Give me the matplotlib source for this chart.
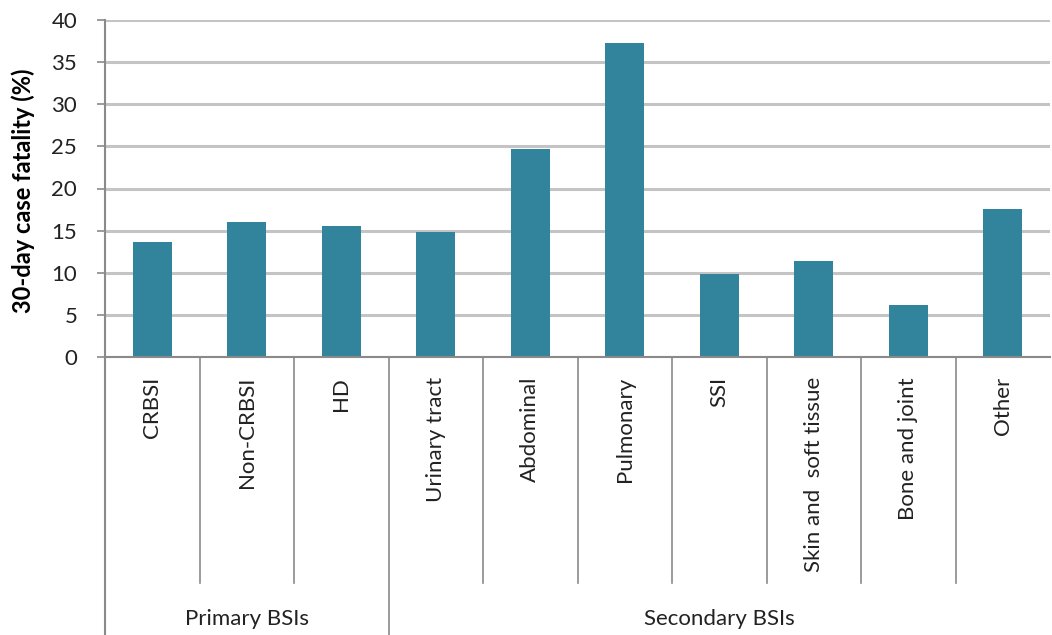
import matplotlib.pyplot as plt
from matplotlib.transforms import blended_transform_factory

# 30-day case fatality by source of bloodstream infection
categorias = ['CRBSI', 'Non-CRBSI', 'HD', 'Urinary tract', 'Abdominal',
              'Pulmonary', 'SSI', 'Skin and  soft tissue', 'Bone and joint', 'Other']
fatalidad = [13.6, 16.0, 15.5, 14.8, 24.7, 37.3, 9.8, 11.4, 6.2, 17.6]
grupos = ['Primary BSIs', 'Secondary BSIs']
grupo_tamanio = [3, 7]

plt.rcParams['font.family'] = ['Lato', 'DejaVu Sans']

color_barra = '#31849b'
gris_grid = '#c4c4c4'
gris_eje = '#8a8a8a'
color_texto = '#222222'

fig = plt.figure(figsize=(10.52, 6.35), dpi=100)
ax = fig.add_axes([105 / 1052, 278 / 635, 945 / 1052, 337 / 635])

x = list(range(len(categorias)))
ax.bar(x, fatalidad, width=0.41, color=color_barra, zorder=3)

ax.set_xlim(-0.5, len(categorias) - 0.5)
ax.set_ylim(0, 40)
ax.set_yticks(range(0, 41, 5))
ax.tick_params(axis='y', length=6, width=1.2, color=gris_eje, pad=14,
               labelsize=16, labelcolor=color_texto)
ax.set_xticks([])
ax.grid(axis='y', color=gris_grid, linewidth=2.2, zorder=0)

for lado in ['top', 'right', 'bottom']:
    ax.spines[lado].set_visible(False)
ax.spines['left'].set_color(gris_eje)
ax.spines['left'].set_linewidth(1.5)
ax.axhline(0, color=gris_eje, linewidth=1.5, zorder=4, clip_on=False)

# eje de categorias con dos niveles (estilo Excel)
trans = blended_transform_factory(ax.transData, ax.transAxes)
alto = 337.0
fondo_cat = -(583 - 357) / alto
fondo_fig = -(635 - 357) / alto - 0.01

ax.plot([-0.5, -0.5], [0, fondo_fig], transform=trans, color=gris_eje,
        linewidth=1.5, clip_on=False)
limite = grupo_tamanio[0] - 0.5
for k in range(1, len(categorias)):
    xd = k - 0.5
    fin = fondo_fig if xd == limite else fondo_cat
    ax.plot([xd, xd], [0, fin], transform=trans, color=gris_eje,
            linewidth=1.2, clip_on=False)

for i, nombre in enumerate(categorias):
    ax.text(i, -20 / alto, nombre, transform=trans, rotation=90,
            ha='center', va='top', fontsize=16, color=color_texto)

inicio = 0
for nombre, n in zip(grupos, grupo_tamanio):
    centro = inicio + (n - 1) / 2
    ax.text(centro, -(619 - 357) / alto, nombre, transform=trans,
            ha='center', va='center', fontsize=16, color=color_texto)
    inicio += n

fig.text(23 / 1052, 1 - 191 / 635, '30-day case fatality (%)', rotation=90,
         ha='center', va='center', fontsize=17, fontweight='bold')

fig.savefig('out.png', dpi=100)
